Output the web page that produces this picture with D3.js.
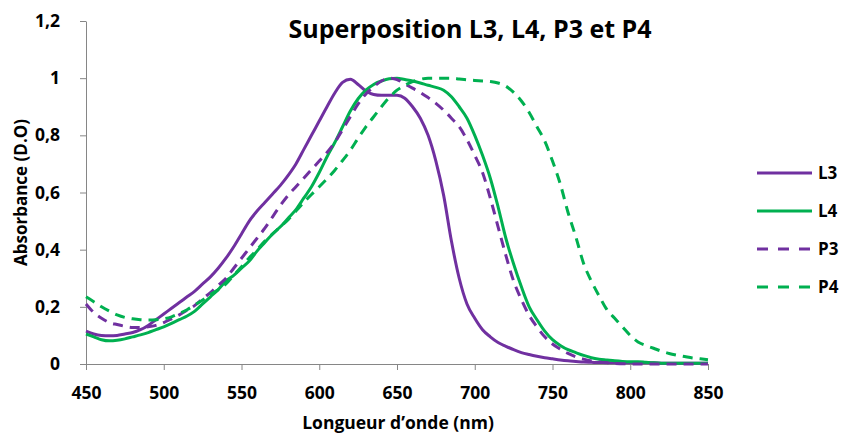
<!DOCTYPE html>
<html>
<head>
<meta charset="utf-8">
<script src="https://cdn.jsdelivr.net/npm/d3@7"></script>
<style>
  body { margin: 0; background: #fff; }
  svg text { font-family: "Open Sans", "Liberation Sans", sans-serif; font-weight: bold; fill: #000; }
</style>
</head>
<body>
<svg id="svg"></svg>
<script>
// longueurs d'onde (nm), pas de 5
var wavelengths = d3.range(450, 851, 5);

var L3 = [0.115,0.105,0.100,0.099,0.100,0.105,0.110,0.120,0.135,0.155,
          0.175,0.195,0.215,0.235,0.255,0.280,0.305,0.335,0.370,0.410,
          0.455,0.500,0.535,0.565,0.595,0.625,0.660,0.700,0.750,0.800,
          0.850,0.900,0.948,0.985,0.996,0.978,0.955,0.943,0.940,0.940,
          0.940,0.930,0.900,0.860,0.800,0.710,0.590,0.430,0.300,0.210,
          0.160,0.120,0.095,0.075,0.062,0.050,0.040,0.033,0.027,0.022,
          0.018,0.014,0.011,0.009,0.007,0.006,0.005,0.005,0.004,0.004,
          0.004,0.004,0.004,0.004,0.003,0.003,0.003,0.003,0.003,0.003,0.003];

var L4 = [0.105,0.095,0.085,0.081,0.083,0.088,0.095,0.102,0.110,0.120,
          0.130,0.142,0.155,0.168,0.185,0.210,0.235,0.260,0.290,0.310,
          0.335,0.360,0.395,0.425,0.455,0.480,0.510,0.540,0.580,0.620,
          0.670,0.725,0.775,0.830,0.885,0.928,0.958,0.978,0.990,0.998,
          1.000,0.995,0.990,0.983,0.975,0.968,0.958,0.935,0.900,0.860,
          0.800,0.730,0.650,0.550,0.440,0.350,0.270,0.200,0.155,0.115,
          0.085,0.065,0.050,0.040,0.030,0.022,0.017,0.014,0.011,0.009,
          0.008,0.008,0.006,0.004,0.003,0.003,0.003,0.003,0.003,0.003,0.003];

var P3 = [0.210,0.180,0.160,0.145,0.138,0.132,0.128,0.128,0.130,0.135,
          0.145,0.158,0.172,0.188,0.205,0.228,0.250,0.275,0.300,0.335,
          0.370,0.405,0.440,0.475,0.515,0.555,0.590,0.620,0.650,0.680,
          0.710,0.740,0.775,0.820,0.865,0.910,0.945,0.970,0.990,1.000,
          0.995,0.980,0.965,0.950,0.932,0.912,0.888,0.860,0.830,0.785,
          0.730,0.670,0.580,0.480,0.380,0.290,0.225,0.170,0.130,0.095,
          0.070,0.052,0.037,0.025,0.017,0.011,0.007,0.004,0.002,0.001,
          0.000,0.000,0.000,0.000,0.000,0.000,0.000,0.000,0.000,0.000,0.000];

var P4 = [0.235,0.218,0.200,0.185,0.172,0.163,0.158,0.155,0.154,0.155,
          0.158,0.165,0.177,0.190,0.207,0.224,0.243,0.260,0.280,0.310,
          0.340,0.372,0.400,0.430,0.455,0.480,0.505,0.535,0.565,0.593,
          0.620,0.648,0.678,0.712,0.748,0.790,0.830,0.865,0.900,0.932,
          0.958,0.975,0.988,0.996,1.000,1.000,1.000,1.000,0.997,0.994,
          0.992,0.990,0.988,0.983,0.972,0.950,0.920,0.880,0.830,0.780,
          0.710,0.630,0.530,0.445,0.352,0.290,0.238,0.190,0.160,0.130,
          0.100,0.077,0.065,0.055,0.045,0.037,0.031,0.026,0.021,0.018,0.015];

var seriesNames = ["L3", "L4", "P3", "P4"];
var seriesColors = ["#7030A0", "#00B050", "#7030A0", "#00B050"];
var seriesDashed = [false, false, true, true];
var seriesValues = [L3, L4, P3, P4];

var xTicks = [450, 500, 550, 600, 650, 700, 750, 800, 850];
var yTicks = [0, 0.2, 0.4, 0.6, 0.8, 1, 1.2];

var width = 841, height = 435;
var margin = {left: 86, right: 133, top: 21, bottom: 71};
var plot_width = width - margin.left - margin.right;
var plot_height = height - margin.top - margin.bottom;

var svg = d3.select("#svg").attr("width", width).attr("height", height);

var xScale = d3.scaleLinear().domain([450, 850]).range([0, plot_width]);
var yScale = d3.scaleLinear().domain([0, 1.2]).range([plot_height, 0]);

var container = svg.append("g").attr("transform", `translate(${margin.left}, ${margin.top})`);

var fmt = d => String(d).replace(".", ",");

// axes
var xAxis = container.append("g")
    .attr("transform", `translate(0, ${plot_height})`)
    .call(d3.axisBottom(xScale).tickValues(xTicks).tickSize(6).tickSizeOuter(0).tickPadding(17));
var yAxis = container.append("g")
    .call(d3.axisLeft(yScale).tickValues(yTicks).tickFormat(fmt).tickSize(6).tickSizeOuter(0).tickPadding(20));

[xAxis, yAxis].forEach(a => {
    a.selectAll("path, line").attr("stroke", "#868686").attr("stroke-width", 1);
    a.selectAll("text").style("font-size", "17.5px").attr("fill", "#000");
});

// courbes
var line = d3.line()
    .x(d => xScale(d[0]))
    .y(d => yScale(d[1]))
    .curve(d3.curveMonotoneX);

seriesValues.forEach((vals, i) => {
    container.append("path")
        .datum(wavelengths.map((w, j) => [w, vals[j]]))
        .attr("fill", "none")
        .attr("stroke", seriesColors[i])
        .attr("stroke-width", 3)
        .attr("stroke-dasharray", seriesDashed[i] ? "10,7" : null)
        .attr("d", line);
});

// titre
svg.append("text")
    .attr("x", 470).attr("y", 38)
    .attr("text-anchor", "middle")
    .style("font-size", "25px")
    .text("Superposition L3, L4, P3 et P4");

svg.append("text")
    .attr("transform", `translate(27, ${margin.top + plot_height / 2}) rotate(-90)`)
    .attr("text-anchor", "middle")
    .style("font-size", "17px")
    .text("Absorbance (D.O)");

svg.append("text")
    .attr("x", 398).attr("y", 429)
    .attr("text-anchor", "middle")
    .style("font-size", "17.5px")
    .text("Longueur d’onde (nm)");

// légende
var legend = svg.append("g").attr("transform", "translate(757, 173)");
seriesNames.forEach((name, i) => {
    var g = legend.append("g").attr("transform", `translate(0, ${i * 38})`);
    g.append("line")
        .attr("x1", 0).attr("x2", 55).attr("y1", 0).attr("y2", 0)
        .attr("stroke", seriesColors[i])
        .attr("stroke-width", 3)
        .attr("stroke-dasharray", seriesDashed[i] ? "11,10" : null);
    g.append("text")
        .attr("x", 61).attr("y", 0).attr("dy", "0.35em")
        .style("font-size", "17px")
        .text(name);
});
</script>
</body>
</html>
